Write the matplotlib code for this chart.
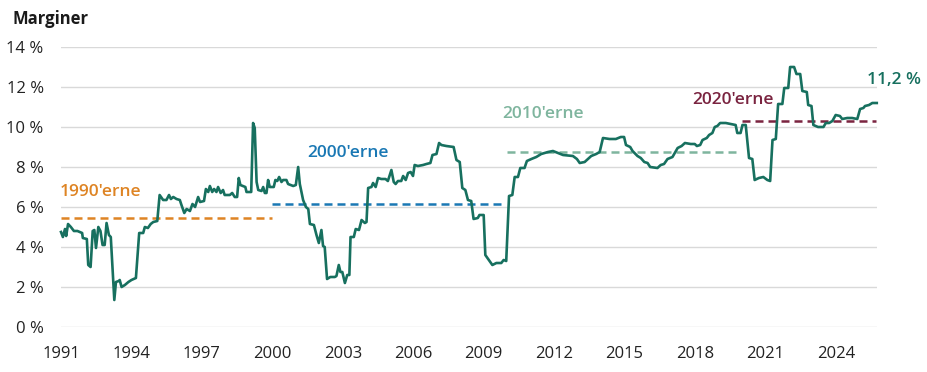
import matplotlib.pyplot as plt
import numpy as np

# margin series (year, percent)
aar = [1991.0, 1991.08, 1991.17, 1991.22, 1991.3, 1991.42, 1991.55, 1991.7, 1991.9, 1991.93,
       1992.1, 1992.16, 1992.26, 1992.35, 1992.42, 1992.49, 1992.59, 1992.68, 1992.77, 1992.86,
       1992.94, 1993.04, 1993.12, 1993.27, 1993.34, 1993.46, 1993.5, 1993.58, 1993.72, 1993.87,
       1994.0, 1994.19, 1994.33, 1994.5, 1994.57, 1994.7, 1994.82, 1994.93, 1995.1, 1995.2,
       1995.35, 1995.49, 1995.6, 1995.68, 1995.78, 1995.92, 1996.06, 1996.13, 1996.25, 1996.35,
       1996.49, 1996.6, 1996.71, 1996.84, 1996.92, 1997.09, 1997.17, 1997.27, 1997.34, 1997.44,
       1997.52, 1997.62, 1997.69, 1997.8, 1997.9, 1997.97, 1998.19, 1998.29, 1998.4, 1998.5,
       1998.57, 1998.64, 1998.85, 1998.9, 1999.1, 1999.18, 1999.25, 1999.33, 1999.4, 1999.54,
       1999.61, 1999.68, 1999.75, 1999.82, 1999.89, 2000.06, 2000.13, 2000.21, 2000.29, 2000.39,
       2000.46, 2000.6, 2000.67, 2000.89, 2001.0, 2001.1, 2001.17, 2001.31, 2001.43, 2001.53,
       2001.6, 2001.77, 2001.88, 2001.98, 2002.09, 2002.16, 2002.23, 2002.33, 2002.47, 2002.66,
       2002.73, 2002.83, 2002.9, 2002.98, 2003.09, 2003.19, 2003.28, 2003.33, 2003.47, 2003.55,
       2003.69, 2003.8, 2003.94, 2004.01, 2004.08, 2004.22, 2004.29, 2004.4, 2004.5, 2004.64,
       2004.82, 2004.92, 2005.07, 2005.17, 2005.25, 2005.35, 2005.49, 2005.57, 2005.68, 2005.78,
       2005.89, 2005.99, 2006.06, 2006.2, 2006.42, 2006.56, 2006.73, 2006.82, 2006.99, 2007.1,
       2007.2, 2007.41, 2007.72, 2007.84, 2007.98, 2008.09, 2008.22, 2008.33, 2008.47, 2008.57,
       2008.75, 2008.82, 2009.0, 2009.07, 2009.19, 2009.37, 2009.54, 2009.75, 2009.85, 2009.96,
       2010.08, 2010.22, 2010.32, 2010.46, 2010.56, 2010.74, 2010.84, 2011.03, 2011.24, 2011.45,
       2011.74, 2011.95, 2012.16, 2012.38, 2012.8, 2012.97, 2013.09, 2013.3, 2013.44, 2013.58,
       2013.79, 2013.94, 2014.08, 2014.36, 2014.63, 2014.84, 2014.98, 2015.06, 2015.24, 2015.34,
       2015.55, 2015.69, 2015.84, 2015.98, 2016.09, 2016.4, 2016.54, 2016.68, 2016.83, 2017.04,
       2017.26, 2017.43, 2017.57, 2017.82, 2017.99, 2018.08, 2018.22, 2018.32, 2018.5, 2018.6,
       2018.74, 2018.84, 2018.95, 2019.07, 2019.31, 2019.52, 2019.73, 2019.8, 2019.94, 2020.02,
       2020.16, 2020.3, 2020.44, 2020.54, 2020.72, 2020.91, 2021.08, 2021.2, 2021.3, 2021.44,
       2021.54, 2021.72, 2021.8, 2021.97, 2022.05, 2022.22, 2022.32, 2022.48, 2022.57, 2022.76,
       2022.82, 2022.96, 2023.04, 2023.24, 2023.47, 2023.57, 2023.71, 2023.85, 2023.99, 2024.17,
       2024.27, 2024.48, 2024.69, 2024.91, 2025.03, 2025.17, 2025.24, 2025.41, 2025.55, 2025.74]
margin = [4.75, 4.5, 4.9, 4.55, 5.15, 5.0, 4.8, 4.8, 4.7, 4.45,
          4.4, 3.1, 3.0, 4.8, 4.85, 3.95, 5.0, 4.8, 4.1, 4.1,
          5.2, 4.6, 4.5, 1.35, 2.25, 2.3, 2.35, 2.0, 2.1, 2.25,
          2.35, 2.45, 4.7, 4.7, 5.0, 4.95, 5.15, 5.25, 5.3, 6.6,
          6.35, 6.35, 6.6, 6.4, 6.5, 6.4, 6.35, 6.1, 5.7, 5.9,
          5.8, 6.15, 6.0, 6.5, 6.25, 6.3, 6.9, 6.75, 7.05, 6.75,
          6.9, 6.75, 7.0, 6.7, 6.85, 6.6, 6.6, 6.7, 6.5, 6.5,
          7.45, 7.1, 7.0, 6.75, 6.75, 10.2, 9.95, 7.25, 6.85, 6.8,
          7.0, 6.7, 6.7, 7.35, 7.0, 7.0, 7.35, 7.3, 7.5, 7.25,
          7.35, 7.35, 7.15, 7.05, 7.1, 8.0, 7.15, 6.35, 6.0, 5.9,
          5.15, 5.1, 4.6, 4.2, 4.85, 4.05, 4.0, 2.4, 2.5, 2.5,
          2.55, 3.1, 2.75, 2.75, 2.2, 2.6, 2.6, 4.5, 4.5, 4.9,
          4.85, 5.35, 5.2, 5.25, 6.95, 7.0, 7.2, 7.0, 7.45, 7.4,
          7.4, 7.3, 7.85, 7.25, 7.15, 7.3, 7.3, 7.55, 7.35, 7.7,
          7.75, 7.55, 8.1, 8.05, 8.1, 8.15, 8.2, 8.6, 8.65, 9.2,
          9.1, 9.05, 9.0, 8.35, 8.25, 6.95, 6.85, 6.35, 6.3, 5.4,
          5.45, 5.6, 5.6, 3.6, 3.4, 3.1, 3.2, 3.2, 3.35, 3.3,
          6.55, 6.6, 7.5, 7.5, 7.95, 7.95, 8.3, 8.4, 8.5, 8.65,
          8.75, 8.8, 8.7, 8.6, 8.55, 8.4, 8.2, 8.25, 8.4, 8.55,
          8.65, 8.75, 9.45, 9.4, 9.4, 9.5, 9.5, 9.1, 9.0, 8.8,
          8.55, 8.45, 8.25, 8.2, 8.0, 7.95, 8.1, 8.15, 8.4, 8.5,
          8.95, 9.05, 9.2, 9.15, 9.15, 9.05, 9.1, 9.35, 9.45, 9.6,
          9.7, 10.0, 10.05, 10.2, 10.2, 10.15, 10.1, 9.7, 9.7, 10.1,
          10.1, 8.45, 8.4, 7.35, 7.45, 7.5, 7.35, 7.3, 9.35, 9.4,
          11.15, 11.15, 11.95, 11.95, 13.0, 13.0, 12.65, 12.65, 11.8, 11.75,
          11.1, 11.05, 10.1, 10.0, 10.0, 10.2, 10.2, 10.3, 10.6, 10.55,
          10.4, 10.45, 10.45, 10.4, 10.9, 10.95, 11.05, 11.1, 11.2, 11.2]

# decade averages
tiaar = ["1990'erne", "2000'erne", "2010'erne", "2020'erne"]
tiaar_start = [1991.0, 2000.0, 2010.0, 2020.0]
tiaar_slut = [2000.0, 2009.95, 2019.9, 2025.7]
tiaar_snit = [5.43, 6.15, 8.73, 10.32]
tiaar_farve = ['#DE8424', '#1A78B4', '#7FB59E', '#7A2440']
etiket_x = [1990.96, 2001.5, 2009.77, 2017.9]
etiket_y = [6.77, 8.7, 10.65, 11.35]

linjefarve = '#17705F'

plt.rcParams['font.family'] = ['Open Sans', 'DejaVu Sans']

fig = plt.figure(figsize=(9.28, 3.72), dpi=100)
ax = fig.add_axes([61/928, 1 - 327/372, (877 - 61)/928, 280/372])

for i in range(len(tiaar)):
    ax.plot([tiaar_start[i], tiaar_slut[i]], [tiaar_snit[i], tiaar_snit[i]],
            color=tiaar_farve[i], lw=1.8, ls=(0, (3.2, 2.0)), zorder=2)
    ax.text(etiket_x[i], etiket_y[i], tiaar[i], color=tiaar_farve[i],
            fontsize=12.5, fontweight='semibold', ha='left', va='center')

ax.plot(aar, margin, color=linjefarve, lw=1.9, zorder=3, clip_on=False)
ax.text(2026.49, 12.35, '11,2 %', color=linjefarve, fontsize=12.5,
        fontweight='semibold', ha='center', va='center', clip_on=False)

ax.set_xlim(1991, 2025.75)
ax.set_ylim(0, 14)
ax.set_yticks(np.arange(0, 15, 2))
ax.set_yticklabels([f'{v} %' for v in range(0, 15, 2)])
ax.set_xticks(range(1991, 2025, 3))
ax.grid(axis='y', color='#D9D9D9', lw=1)
ax.set_axisbelow(True)
for s in ax.spines.values():
    s.set_visible(False)
ax.tick_params(length=0, labelsize=12, colors='#222222')
ax.tick_params(axis='y', pad=12.5)
ax.tick_params(axis='x', pad=14)

fig.text(13/928, 1 - 19/372, 'Marginer', fontsize=12, fontweight='bold',
         ha='left', va='center', color='#1a1a1a')

fig.savefig('out.png', dpi=100)
